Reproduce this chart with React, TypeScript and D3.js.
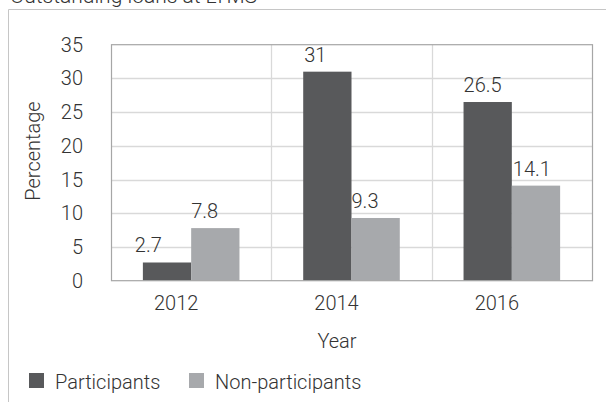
import React from "react";
import * as d3 from "d3";

const title = "Outstanding loans at LTMS";
const years = ["2012", "2014", "2016"];
const seriesNames = ["Participants", "Non-participants"];
const participants = [2.7, 31, 26.5];
const nonParticipants = [7.8, 9.3, 14.1];
const yTicks = [0, 5, 10, 15, 20, 25, 30, 35];
const labelDx = [-8, 1, 0, 0, 0, 1];

const W = 606;
const H = 402;
const M = { left: 111, right: 592, top: 44.7, bottom: 280.7 };
const colors = ["#58595b", "#a7a9ac"];
const FONT = "'Roboto', 'Liberation Sans', sans-serif";
const TXT = "#333333";
const FS = 20;

export default function App() {
  const x0 = d3.scaleBand().domain(years).range([M.left, M.right]).paddingInner(0).paddingOuter(0);
  const x1 = d3.scaleBand().domain(seriesNames).range([0, x0.bandwidth()]).paddingInner(0).paddingOuter(0.66);
  const y = d3.scaleLinear().domain([0, 35]).range([M.bottom, M.top]);
  const seriesVals = [participants, nonParticipants];

  const bars: any[] = [];
  seriesNames.forEach((s, si) => {
    years.forEach((yr, i) => {
      const v = seriesVals[si][i];
      const bx = (x0(yr) as number) + (x1(s) as number);
      bars.push({ s, si, i, v, bx, w: x1.bandwidth() });
    });
  });

  return (
    <svg width={W} height={H} style={{ position: "absolute", left: 0, top: 0, background: "#fff" }}>
      <rect x={0} y={0} width={W} height={H} fill="#fff" />
      <text x={10} y={3} fontFamily={FONT} fontWeight={300} fontSize={21} fill={TXT}>{title}</text>
      {/* outer frame */}
      <line x1={8.5} x2={W} y1={9.5} y2={9.5} stroke="#c6c6c6" />
      <line x1={8.5} x2={8.5} y1={9.5} y2={H} stroke="#c6c6c6" />
      {/* gridlines */}
      {yTicks.filter(t => t > 0 && t < 35).map(t => (
        <line key={t} x1={M.left} x2={M.right} y1={Math.round(y(t)) + 0.5} y2={Math.round(y(t)) + 0.5} stroke="#d9d9d9" strokeWidth={1.3} />
      ))}
      {years.slice(1).map(yr => (
        <line key={yr} x1={Math.round(x0(yr) as number) + 0.5} x2={Math.round(x0(yr) as number) + 0.5} y1={M.top} y2={M.bottom} stroke="#d9d9d9" strokeWidth={1.3} />
      ))}
      {/* bars */}
      {bars.map((b, k) => (
        <rect key={k} x={b.bx} y={y(b.v)} width={b.w} height={y(0) - y(b.v)} fill={colors[b.si]} />
      ))}
      {/* frame */}
      <rect x={M.left + 0.5} y={M.top} width={M.right - M.left} height={M.bottom - M.top} fill="none" stroke="#a6a6a6" strokeWidth={1.2} />
      {/* value labels */}
      {bars.map((b, k) => (
        <text key={"l" + k} x={b.bx + labelDx[k]} y={y(b.v) - 10} fontFamily={FONT} fontWeight={300} fontSize={FS} fill={TXT}>{String(b.v)}</text>
      ))}
      {/* y ticks */}
      {yTicks.map(t => (
        <text key={t} x={83} y={y(t)} dy="0.35em" textAnchor="end" fontFamily={FONT} fontWeight={300} fontSize={FS} fill={TXT}>{t}</text>
      ))}
      {/* x ticks */}
      {years.map(yr => (
        <text key={yr} x={(x0(yr) as number) + x0.bandwidth() / 2 - 15} y={310} textAnchor="middle" fontFamily={FONT} fontWeight={300} fontSize={FS} fill={TXT}>{yr}</text>
      ))}
      <text x={337} y={348} textAnchor="middle" fontFamily={FONT} fontWeight={300} fontSize={FS} fill={TXT}>Year</text>
      <text transform={`translate(40,151) rotate(-90)`} textAnchor="middle" fontFamily={FONT} fontWeight={300} fontSize={FS} fill={TXT}>Percentage</text>
      {/* legend */}
      {seriesNames.map((s, i) => {
        const lx = i === 0 ? 29 : 189;
        return (
          <g key={s}>
            <rect x={lx} y={373} width={15} height={15} fill={colors[i]} />
            <text x={lx + 26} y={389} fontFamily={FONT} fontWeight={300} fontSize={FS} fill={TXT}>{s}</text>
          </g>
        );
      })}
    </svg>
  );
}
